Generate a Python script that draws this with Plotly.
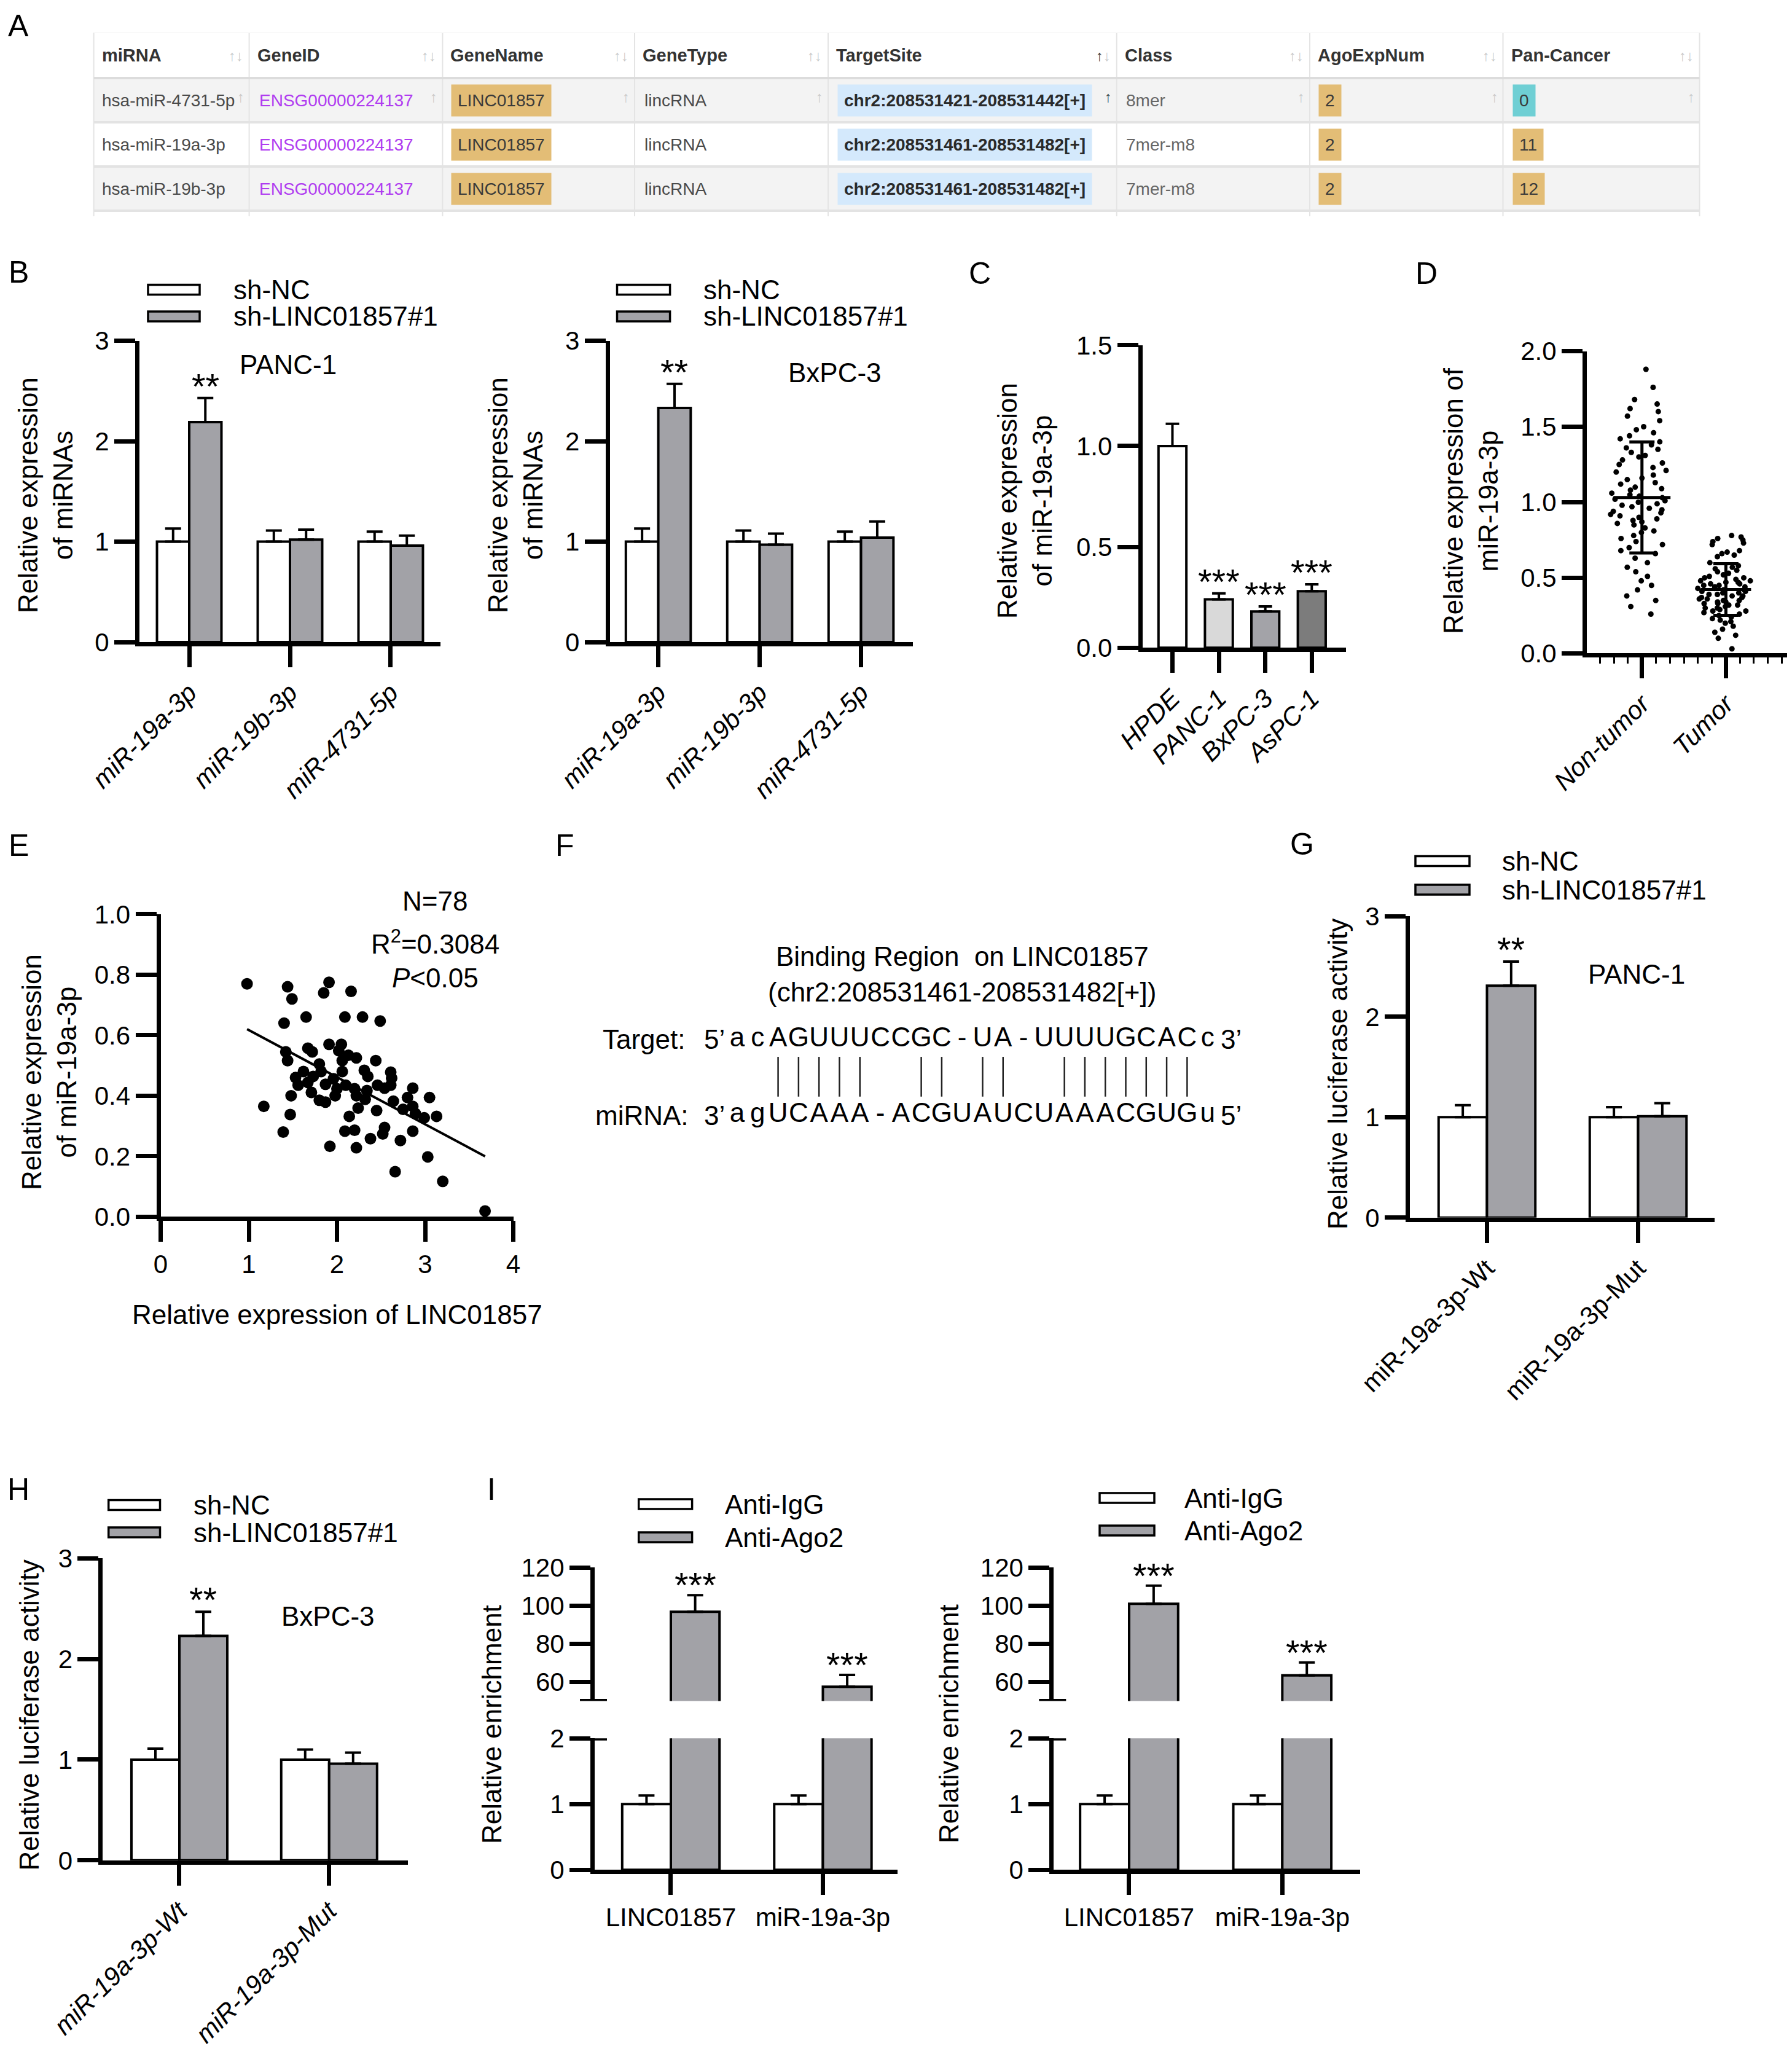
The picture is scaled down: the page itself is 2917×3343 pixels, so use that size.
import numpy as np
import plotly.graph_objects as go

# ------------------------------------------------------------------ DATA
tbl_columns = ["miRNA", "GeneID", "GeneName", "GeneType", "TargetSite", "Class", "AgoExpNum", "Pan-Cancer"]
tbl_mirna = ["hsa-miR-4731-5p", "hsa-miR-19a-3p", "hsa-miR-19b-3p"]
tbl_geneid = ["ENSG00000224137", "ENSG00000224137", "ENSG00000224137"]
tbl_genename = ["LINC01857", "LINC01857", "LINC01857"]
tbl_genetype = ["lincRNA", "lincRNA", "lincRNA"]
tbl_targetsite = ["chr2:208531421-208531442[+]", "chr2:208531461-208531482[+]", "chr2:208531461-208531482[+]"]
tbl_class = ["8mer", "7mer-m8", "7mer-m8"]
tbl_agoexpnum = [2, 2, 2]
tbl_pancancer = [0, 11, 12]

b_categories = ["miR-19a-3p", "miR-19b-3p", "miR-4731-5p"]
b_groups = ["sh-NC", "sh-LINC01857#1"]
b_panc1_nc = [1.00, 1.00, 1.00]
b_panc1_nc_err = [0.13, 0.11, 0.10]
b_panc1_sh = [2.19, 1.02, 0.96]
b_panc1_sh_err = [0.24, 0.10, 0.10]
b_bxpc3_nc = [1.00, 1.00, 1.00]
b_bxpc3_nc_err = [0.13, 0.11, 0.10]
b_bxpc3_sh = [2.33, 0.97, 1.04]
b_bxpc3_sh_err = [0.24, 0.11, 0.16]
b_stars = ["**", "", ""]

c_cells = ["HPDE", "PANC-1", "BxPC-3", "AsPC-1"]
c_values = [1.00, 0.24, 0.18, 0.28]
c_err = [0.11, 0.03, 0.025, 0.035]
c_stars = ["", "***", "***", "***"]

d_groups = ["Non-tumor", "Tumor"]
d_nontumor = [1.88, 1.76, 1.68, 1.65, 1.62, 1.60, 1.57, 1.54, 1.50, 1.48,
              1.46, 1.44, 1.42, 1.40, 1.38, 1.36, 1.35, 1.33, 1.31, 1.30,
              1.28, 1.26, 1.25, 1.23, 1.21, 1.20, 1.18, 1.16, 1.15, 1.13,
              1.12, 1.10, 1.09, 1.08, 1.06, 1.05, 1.04, 1.03, 1.02, 1.01,
              1.00, 0.99, 0.98, 0.97, 0.96, 0.95, 0.94, 0.93, 0.92, 0.91,
              0.90, 0.89, 0.88, 0.87, 0.86, 0.85, 0.83, 0.81, 0.80, 0.78,
              0.76, 0.74, 0.72, 0.70, 0.68, 0.66, 0.63, 0.60, 0.57, 0.54,
              0.51, 0.48, 0.45, 0.42, 0.38, 0.35, 0.31, 0.26]
d_tumor = [0.78, 0.77, 0.76, 0.75, 0.74, 0.73, 0.72, 0.68, 0.67, 0.66,
           0.65, 0.64, 0.60, 0.58, 0.57, 0.56, 0.55, 0.54, 0.53, 0.52,
           0.51, 0.50, 0.50, 0.49, 0.48, 0.48, 0.47, 0.47, 0.46, 0.46,
           0.45, 0.45, 0.44, 0.44, 0.43, 0.43, 0.42, 0.42, 0.41, 0.41,
           0.40, 0.40, 0.39, 0.39, 0.38, 0.38, 0.37, 0.37, 0.36, 0.36,
           0.35, 0.35, 0.34, 0.34, 0.33, 0.33, 0.32, 0.32, 0.31, 0.30,
           0.30, 0.29, 0.28, 0.28, 0.27, 0.26, 0.25, 0.24, 0.23, 0.22,
           0.21, 0.20, 0.18, 0.16, 0.14, 0.12, 0.10, 0.03]
d_label = "** (N=78)"

e_linc = [0.98, 1.44, 1.49, 1.91, 1.85, 2.16, 1.40, 1.65, 2.09, 2.29,
          2.49, 1.91, 2.05, 1.67, 1.72, 1.42, 1.44, 2.22, 2.44, 2.06,
          2.06, 2.31, 2.61, 1.53, 1.82, 1.73, 1.96, 2.35, 1.56, 2.10,
          2.20, 2.34, 2.54, 2.61, 1.71, 1.48, 1.98, 2.22, 2.32, 2.86,
          3.05, 1.80, 1.87, 2.64, 1.17, 2.24, 2.45, 2.75, 2.86, 1.47,
          2.14, 2.99, 3.13, 1.39, 2.09, 2.20, 2.54, 2.52, 2.86, 2.38,
          2.72, 1.92, 2.22, 3.03, 2.66, 3.20, 3.68, 2.02, 2.13, 1.80,
          1.62, 1.87, 2.62, 2.89, 2.00, 2.46, 1.67, 2.80]
e_mir = [0.770, 0.760, 0.720, 0.775, 0.740, 0.745, 0.640, 0.660, 0.660, 0.660,
         0.647, 0.570, 0.570, 0.557, 0.545, 0.545, 0.516, 0.525, 0.516, 0.516,
         0.480, 0.484, 0.478, 0.460, 0.480, 0.464, 0.456, 0.464, 0.435, 0.435,
         0.423, 0.417, 0.425, 0.435, 0.411, 0.400, 0.400, 0.400, 0.388, 0.425,
         0.394, 0.385, 0.379, 0.382, 0.365, 0.359, 0.351, 0.355, 0.365, 0.338,
         0.332, 0.327, 0.332, 0.280, 0.283, 0.286, 0.295, 0.274, 0.283, 0.258,
         0.252, 0.233, 0.228, 0.198, 0.149, 0.117, 0.019, 0.549, 0.534, 0.505,
         0.480, 0.438, 0.458, 0.341, 0.423, 0.435, 0.444, 0.394]
e_fit_x = [0.98, 3.68]
e_fit_y = [0.62, 0.20]
e_stats = ["N=78", "R<sup>2</sup>=0.3084", "<i>P</i>&lt;0.05"]

f_title = ["Binding Region\u00a0 on LINC01857", "(chr2:208531461-208531482[+])"]
f_target = "acAGUUUCCGC-UA-UUUUGCACc"
f_mirna = "agUCAAA-ACGUAUCUAAACGUGu"

g_categories = ["miR-19a-3p-Wt", "miR-19a-3p-Mut"]
g_nc = [1.00, 1.00]
g_nc_err = [0.12, 0.10]
g_sh = [2.31, 1.01]
g_sh_err = [0.24, 0.13]
g_stars = ["**", ""]

h_nc = [1.00, 1.00]
h_nc_err = [0.11, 0.10]
h_sh = [2.23, 0.96]
h_sh_err = [0.24, 0.11]
h_stars = ["**", ""]

i_categories = ["LINC01857", "miR-19a-3p"]
i_groups = ["Anti-IgG", "Anti-Ago2"]
i_left_igg = [1.00, 1.00]
i_left_igg_err = [0.13, 0.13]
i_left_ago2 = [96.8, 57.5]
i_left_ago2_err = [8.7, 6.2]
i_right_igg = [1.00, 1.00]
i_right_igg_err = [0.13, 0.13]
i_right_ago2 = [101.0, 63.4]
i_right_ago2_err = [9.5, 6.8]
i_stars = ["***", "***"]

# ------------------------------------------------------------------ STYLE / LAYOUT HELPERS
W, H = 2917, 3343
MG = 8                      # page body margin of the browser
FW, FH = W - 2 * MG, H - 2 * MG
FONT = "Liberation Sans, Arial, Helvetica, sans-serif"
TFONT = "Liberation Sans, Arial, sans-serif"
GRAY = "#a2a2a7"
BW = 0.32


def X(px):
    return (px - MG) / FW


def Y(py):
    return 1 - (py - MG) / FH


def clamp(v):
    return min(1.0, max(0.0, v))


def xdom(a, b):
    return [clamp(X(a)), clamp(X(b))]


def ydom(top, bot):
    return [clamp(Y(bot)), clamp(Y(top))]


BASE = dict(showline=True, linecolor="black", linewidth=7, ticks="outside", ticklen=34,
            tickwidth=7, tickcolor="black", showgrid=False, zeroline=False, automargin=False,
            tickfont=dict(family=FONT, size=42, color="black"), fixedrange=True)


def axis(dom, rng, anchor, **kw):
    d = dict(BASE)
    d.update(domain=dom, range=rng, anchor=anchor)
    d.update(kw)
    return d


def hidden(dom, rng, anchor):
    return dict(domain=dom, range=rng, anchor=anchor, visible=False, fixedrange=True,
                automargin=False, showgrid=False, zeroline=False)


fig = go.Figure()
axes = {}
ann = []
shp = []


def A(**kw):
    base = dict(showarrow=False, font=dict(family=FONT, size=44, color="black"))
    base.update(kw)
    ann.append(base)


def paper_text(x, y, text, size=44, xanchor="center", angle=0, **kw):
    A(x=X(x), y=Y(y), xref="paper", yref="paper", text=text, xanchor=xanchor,
      yanchor="middle", textangle=angle, font=dict(family=FONT, size=size, color="black"), **kw)


def legend(x0, x1, yc1, yc2, tx, labels):
    for yc, col, lab in [(yc1, "white", labels[0]), (yc2, GRAY, labels[1])]:
        shp.append(dict(type="rect", xref="paper", yref="paper", x0=X(x0), x1=X(x1),
                        y0=Y(yc + 8), y1=Y(yc - 8), fillcolor=col,
                        line=dict(color="black", width=3.5)))
        paper_text(tx, yc, lab, xanchor="left")


def bar_pair(xa, ya, nc, nc_err, sh, sh_err):
    n = len(nc)
    xs = list(range(n))
    out = []
    for vals, errs, col, off in [(nc, nc_err, "white", -BW), (sh, sh_err, GRAY, 0.0)]:
        out.append(go.Bar(x=xs, y=vals, offset=off, width=BW, xaxis=xa, yaxis=ya,
                          marker=dict(color=col, line=dict(color="black", width=4)),
                          error_y=dict(type="data", array=errs, arrayminus=[0] * n, symmetric=False,
                                       color="black", thickness=4, width=13),
                          showlegend=False, hoverinfo="skip"))
    return out


def stars(xa, ya, xs, tops, labels, size=58, shift=-15):
    for x, t, s in zip(xs, tops, labels):
        if s:
            A(x=x, y=t, xref=xa, yref=ya, text=s, yanchor="bottom", yshift=shift,
              font=dict(family=FONT, size=size, color="black"))


def ital(labels):
    return ["<i>%s</i>" % l for l in labels]


# ------------------------------------------------------------------ A: table
col_edges = [152.6, 405.6, 720.4, 1033, 1348, 1817.7, 2132, 2446.5, 2766.5]
row_edges = [53, 127, 199, 271, 343]
axes["xaxis"] = hidden(xdom(149, 2770), [149, 2770], "y")
axes["yaxis"] = hidden(ydom(53, 352), [352, 53], "x")
for k in range(1, 4):
    shp.append(dict(type="rect", xref="x", yref="y", x0=col_edges[0], x1=col_edges[-1],
                    y0=row_edges[k], y1=row_edges[k + 1], fillcolor="#f3f3f3" if k % 2 else "white",
                    line=dict(width=0), layer="below"))
for j, xe in enumerate(col_edges):
    shp.append(dict(type="line", xref="x", yref="y", x0=xe, x1=xe, y0=row_edges[0], y1=352,
                    line=dict(color="#e4e4e4", width=2)))
for k, ye in enumerate(row_edges[1:]):
    shp.append(dict(type="line", xref="x", yref="y", x0=col_edges[0], x1=col_edges[-1], y0=ye, y1=ye,
                    line=dict(color="#dcdcdc" if k == 0 else "#e3e3e3", width=4)))
shp.append(dict(type="line", xref="x", yref="y", x0=col_edges[0], x1=col_edges[-1], y0=row_edges[0],
                y1=row_edges[0], line=dict(color="#f0f0f0", width=2)))

TSIZE = 28
hy = (row_edges[0] + row_edges[1]) / 2
for j, name in enumerate(tbl_columns):
    A(x=col_edges[j] + 11, y=hy, xref="x", yref="y", text="<b>%s</b>" % name, xanchor="left",
      yanchor="middle", font=dict(family=TFONT, size=TSIZE + 1, color="#333333"))
    icon = ('<span style="color:#333333">↑</span><span style="color:#c8c8c8">↓</span>'
            if name == "TargetSite" else "↑↓")
    A(x=col_edges[j + 1] - 22, y=hy, xref="x", yref="y", text=icon, xanchor="center", yanchor="middle",
      font=dict(family=FONT, size=24, color="#c8c8c8"))

TAN, TEAL, LBLUE = "#e3bd76", "#6fcfd4", "#d4e9fc"
for r in range(3):
    yc = (row_edges[r + 1] + row_edges[r + 2]) / 2
    tf = dict(family=TFONT, size=TSIZE, color="#4a4a4a")
    A(x=col_edges[0] + 11, y=yc, xref="x", yref="y", text=tbl_mirna[r], xanchor="left", yanchor="middle", font=tf)
    A(x=col_edges[1] + 14, y=yc, xref="x", yref="y", text=tbl_geneid[r], xanchor="left", yanchor="middle",
      font=dict(family=TFONT, size=TSIZE, color="#b03cf0"))
    A(x=col_edges[2] + 14, y=yc, xref="x", yref="y", text=tbl_genename[r], xanchor="left", yanchor="middle",
      font=dict(family=TFONT, size=TSIZE, color="#3a3a3a"), bgcolor=TAN, borderpad=10)
    A(x=col_edges[3] + 14, y=yc, xref="x", yref="y", text=tbl_genetype[r], xanchor="left", yanchor="middle", font=tf)
    A(x=col_edges[4] + 15, y=yc, xref="x", yref="y", text="<b>%s</b>" % tbl_targetsite[r], xanchor="left",
      yanchor="middle", font=dict(family=TFONT, size=TSIZE, color="#2a2a2a"), bgcolor=LBLUE, borderpad=10)
    A(x=col_edges[5] + 13, y=yc, xref="x", yref="y", text=tbl_class[r], xanchor="left", yanchor="middle",
      font=dict(family=TFONT, size=TSIZE, color="#666666"))
    A(x=col_edges[6] + 14, y=yc, xref="x", yref="y", text=str(tbl_agoexpnum[r]), xanchor="left",
      yanchor="middle", font=dict(family=TFONT, size=TSIZE, color="#3a3a3a"), bgcolor=TAN, borderpad=10)
    A(x=col_edges[7] + 15, y=yc, xref="x", yref="y", text=str(tbl_pancancer[r]), xanchor="left",
      yanchor="middle", font=dict(family=TFONT, size=TSIZE, color="#3a3a3a"),
      bgcolor=TEAL if tbl_pancancer[r] == 0 else TAN, borderpad=10)
    if r == 0:
        for j in range(8):
            A(x=col_edges[j + 1] - 14, y=yc - 6, xref="x", yref="y", text="↑", xanchor="center",
              yanchor="middle", font=dict(family=FONT, size=24,
                                          color="#333333" if j == 4 else "#c8c8c8"))

# ------------------------------------------------------------------ B
for n, xd, xr, nc, nce, sh, she in [
        (2, (227, 717), [-0.494, 2.494], b_panc1_nc, b_panc1_nc_err, b_panc1_sh, b_panc1_sh_err),
        (3, (992.7, 1485.7), [-0.478, 2.51], b_bxpc3_nc, b_bxpc3_nc_err, b_bxpc3_sh, b_bxpc3_sh_err)]:
    xa, ya = "x%d" % n, "y%d" % n
    axes["xaxis%d" % n] = axis(xdom(*xd), xr, ya, tickmode="array", tickvals=list(range(3)),
                               ticktext=ital(b_categories), tickangle=-45)
    axes["yaxis%d" % n] = axis(ydom(554.5, 1045), [0, 3], xa, tickmode="array", tickvals=[0, 1, 2, 3])
    for t in bar_pair(xa, ya, nc, nce, sh, she):
        fig.add_trace(t)
    stars(xa, ya, [i + BW / 2 for i in range(3)], [v + e for v, e in zip(sh, she)], b_stars)

legend(241, 325, 471.5, 515, 378, b_groups)
legend(1004.5, 1090.6, 471.5, 515, 1143, b_groups)
paper_text(469, 593, "PANC-1")
paper_text(1358.5, 606, "BxPC-3")
paper_text(74, 806, "Relative expression<br>of miRNAs", angle=-90)
paper_text(839, 806, "Relative expression<br>of miRNAs", angle=-90)

# ------------------------------------------------------------------ C
C_COLORS = ["white", "#d9d9d9", "#a3a3a8", "#7c7c7c"]
axes["xaxis4"] = axis(xdom(1859.7, 2191), [-0.645, 3.737], "y4", tickmode="array",
                      tickvals=list(range(4)), ticktext=ital(c_cells), tickangle=-45)
axes["yaxis4"] = axis(ydom(561.8, 1054.3), [0, 1.5], "x4", tickmode="array",
                      tickvals=[0, 0.5, 1.0, 1.5], ticktext=["0.0", "0.5", "1.0", "1.5"])
fig.add_trace(go.Bar(x=list(range(4)), y=c_values, width=0.6, xaxis="x4", yaxis="y4",
                     marker=dict(color=C_COLORS, line=dict(color="black", width=4)),
                     error_y=dict(type="data", array=c_err, arrayminus=[0] * 4, symmetric=False,
                                  color="black", thickness=4, width=11),
                     showlegend=False, hoverinfo="skip"))
stars("x4", "y4", list(range(4)), [v + e for v, e in zip(c_values, c_err)], c_stars)
paper_text(1668, 815, "Relative expression<br>of miR-19a-3p", angle=-90)

# ------------------------------------------------------------------ D
axes["xaxis5"] = axis(xdom(2583, 2917), [-0.657, 1.729], "y5", tickmode="array", tickvals=[0, 1],
                      ticktext=ital(d_groups), tickangle=-45,
                      minor=dict(ticks="outside", ticklen=10, tickwidth=3, tickcolor="black",
                                 tick0=0, dtick=1 / 6))
axes["yaxis5"] = axis(ydom(571.5, 1063.4), [0, 2.0], "x5", tickmode="array",
                      tickvals=[0, 0.5, 1.0, 1.5, 2.0], ticktext=["0.0", "0.5", "1.0", "1.5", "2.0"])
for i, (vals, wd) in enumerate([(d_nontumor, 0.80), (d_tumor, 0.68)]):
    fig.add_trace(go.Box(y=vals, x0=i, width=wd, boxpoints="all", jitter=1, pointpos=0,
                         fillcolor="rgba(0,0,0,0)", line=dict(color="rgba(0,0,0,0)", width=0),
                         marker=dict(color="black", size=9), xaxis="x5", yaxis="y5",
                         showlegend=False, hoverinfo="skip"))
for i, (vals, half) in enumerate([(d_nontumor, 0.34), (d_tumor, 0.30)]):
    m, s = float(np.mean(vals)), float(np.std(vals, ddof=1))
    xs = [i - half, i + half, None, i, i, None, i - 0.15, i + 0.15, None, i - 0.15, i + 0.15]
    ys = [m, m, None, m - s, m + s, None, m + s, m + s, None, m - s, m - s]
    fig.add_trace(go.Scatter(x=xs, y=ys, mode="lines", line=dict(color="black", width=5),
                             xaxis="x5", yaxis="y5", showlegend=False, hoverinfo="skip"))
fig.add_trace(go.Scatter(x=[0, 1], y=[2.01, 2.01], mode="lines", line=dict(color="black", width=4),
                         xaxis="x5", yaxis="y5", showlegend=False, hoverinfo="skip", cliponaxis=False))
A(x=0.5, y=2.01, xref="x5", yref="y5", text=d_label, yanchor="bottom", yshift=4,
  font=dict(family=FONT, size=46, color="black"))
paper_text(2394, 815, "Relative expression of<br>miR-19a-3p", angle=-90)

# ------------------------------------------------------------------ E
axes["xaxis6"] = axis(xdom(261.5, 835.5), [0, 4], "y6", tickmode="array", tickvals=[0, 1, 2, 3, 4])
axes["yaxis6"] = axis(ydom(1487.9, 1980.4), [0, 1.0], "x6", tickmode="array",
                      tickvals=[0, 0.2, 0.4, 0.6, 0.8, 1.0],
                      ticktext=["0.0", "0.2", "0.4", "0.6", "0.8", "1.0"])
fig.add_trace(go.Scatter(x=e_linc, y=e_mir, mode="markers", marker=dict(color="black", size=19),
                         xaxis="x6", yaxis="y6", cliponaxis=False, showlegend=False, hoverinfo="skip"))
fig.add_trace(go.Scatter(x=e_fit_x, y=e_fit_y, mode="lines", line=dict(color="black", width=4),
                         xaxis="x6", yaxis="y6", showlegend=False, hoverinfo="skip"))
for txt, yy in zip(e_stats, [1466.6, 1533.8, 1591]):
    paper_text(708, yy, txt)
paper_text(80, 1745, "Relative expression<br>of miR-19a-3p", angle=-90)
paper_text(548.5, 2139.4, "Relative expression of LINC01857")

# ------------------------------------------------------------------ F
FC0, FSP = 1200.0, 33.29
FY0, FSC = 1815.0, 123.3
axes["xaxis7"] = hidden(xdom(900, 2100), [(900 - FC0) / FSP, (2100 - FC0) / FSP], "y7")
axes["yaxis7"] = hidden(ydom(1500, 1900), [(FY0 - 1900) / FSC, (FY0 - 1500) / FSC], "x7")
cols = list(range(len(f_target)))
fig.add_trace(go.Scatter(x=cols + cols, y=[1] * len(cols) + [0] * len(cols),
                         text=list(f_target) + list(f_mirna), mode="text",
                         textfont=dict(family=FONT, size=44, color="black"),
                         xaxis="x7", yaxis="y7", showlegend=False, hoverinfo="skip", cliponaxis=False))
comp = {"A": "U", "U": "A", "G": "C", "C": "G"}
px, py = [], []
for i, (t, m) in enumerate(zip(f_target, f_mirna)):
    if t in comp and m.isupper() and comp[t] == m:
        px += [i, i, None]
        py += [0.245, 0.77, None]
fig.add_trace(go.Scatter(x=px, y=py, mode="lines", line=dict(color="#222222", width=2.5),
                         xaxis="x7", yaxis="y7", showlegend=False, hoverinfo="skip"))
for txt, xx, yy, xa_ in [("5\u2019", -1.1, 1, "center"), ("3\u2019", len(cols) + 0.15, 1, "center"),
                         ("3\u2019", -1.1, 0, "center"), ("5\u2019", len(cols) + 0.15, 0, "center"),
                         ("Target:", -2.45, 1, "right"), ("miRNA:", -2.3, 0, "right")]:
    A(x=xx, y=yy, xref="x7", yref="y7", text=txt, xanchor=xa_, yanchor="middle")
A(x=(len(cols) - 1) / 2 - 0.5, y=2.094, xref="x7", yref="y7", text=f_title[0], yanchor="middle")
A(x=(len(cols) - 1) / 2 - 0.5, y=1.63, xref="x7", yref="y7", text=f_title[1], yanchor="middle")

# ------------------------------------------------------------------ G
axes["xaxis8"] = axis(xdom(2295, 2791), [-0.51, 1.506], "y8", tickmode="array", tickvals=[0, 1],
                      ticktext=g_categories, tickangle=-45)
axes["yaxis8"] = axis(ydom(1491.4, 1981.8), [0, 3], "x8", tickmode="array", tickvals=[0, 1, 2, 3])
for t in bar_pair("x8", "y8", g_nc, g_nc_err, g_sh, g_sh_err):
    fig.add_trace(t)
stars("x8", "y8", [i + BW / 2 for i in range(2)], [v + e for v, e in zip(g_sh, g_sh_err)], g_stars)
legend(2304, 2392, 1401.4, 1448, 2442.6, b_groups)
paper_text(2663.8, 1585, "PANC-1")
paper_text(2177, 1748, "Relative luciferase activity", angle=-90)

# ------------------------------------------------------------------ H
axes["xaxis9"] = axis(xdom(167.4, 664), [-0.511, 1.526], "y9", tickmode="array", tickvals=[0, 1],
                      ticktext=ital(g_categories), tickangle=-45)
axes["yaxis9"] = axis(ydom(2536.3, 3027.8), [0, 3], "x9", tickmode="array", tickvals=[0, 1, 2, 3])
for t in bar_pair("x9", "y9", h_nc, h_nc_err, h_sh, h_sh_err):
    fig.add_trace(t)
stars("x9", "y9", [i + BW / 2 for i in range(2)], [v + e for v, e in zip(h_sh, h_sh_err)], h_stars)
legend(176.7, 260.5, 2449.4, 2494.1, 312.6, b_groups)
paper_text(534, 2630.6, "BxPC-3")
paper_text(46.5, 2792, "Relative luciferase activity", angle=-90)

# ------------------------------------------------------------------ I (broken axes)
for lo, up, xd, xr, igg, igge, ago, agoe, lg, ytx in [
        (10, 11, (968, 1460.5), [-0.501, 1.489], i_left_igg, i_left_igg_err, i_left_ago2, i_left_ago2_err,
         (1039.7, 1126.6, 2448, 2502, 1177.5), 800),
        (12, 13, (1715.3, 2214), [-0.492, 1.508], i_right_igg, i_right_igg_err, i_right_ago2, i_right_ago2_err,
         (1790, 1879, 2438, 2491, 1925.6), 1544)]:
    xl, yl, xu, yu = "x%d" % lo, "y%d" % lo, "x%d" % up, "y%d" % up
    axes["xaxis%d" % lo] = axis(xdom(*xd), xr, yl, tickmode="array", tickvals=[0, 1],
                                ticktext=i_categories, tickangle=0)
    axes["yaxis%d" % lo] = axis(ydom(2829.2, 3043.3), [0, 2], xl, tickmode="array", tickvals=[0, 1, 2])
    axes["xaxis%d" % up] = hidden(xdom(*xd), xr, yu)
    axes["yaxis%d" % up] = axis(ydom(2551.2, 2768.4), [50, 120], xu, tickmode="array",
                                tickvals=[60, 80, 100, 120])
    for xa, ya in [(xl, yl), (xu, yu)]:
        for t in bar_pair(xa, ya, igg, igge, ago, agoe):
            fig.add_trace(t)
    stars(xu, yu, [i + BW / 2 for i in range(2)], [v + e for v, e in zip(ago, agoe)], i_stars, shift=-18)
    for xa, ya, yv in [(xu, yu, 50), (xl, yl, 2)]:
        shp.append(dict(type="line", xref="%s domain" % xa, yref=ya, xsizemode="pixel", xanchor=0,
                        x0=-24, x1=20, y0=yv, y1=yv, line=dict(color="black", width=7)))
    legend(lg[0], lg[1], lg[2], lg[3], lg[4], i_groups)
    paper_text(ytx, 2806, "Relative enrichment", angle=-90)

# ------------------------------------------------------------------ panel letters
for lab, x, y in [("A", 30, 42), ("B", 30, 443), ("C", 1595, 445), ("D", 2322, 445), ("E", 30, 1376),
                  ("F", 920, 1376), ("G", 2119, 1374), ("H", 30, 2424), ("I", 800, 2424)]:
    paper_text(x, y, lab, size=50)

fig.update_layout(template="none", width=FW, height=FH, margin=dict(l=0, r=0, t=0, b=0, pad=0),
                  paper_bgcolor="white", plot_bgcolor="rgba(0,0,0,0)", barmode="overlay",
                  showlegend=False, annotations=ann, shapes=shp, **axes)
fig.write_html("out.html")
